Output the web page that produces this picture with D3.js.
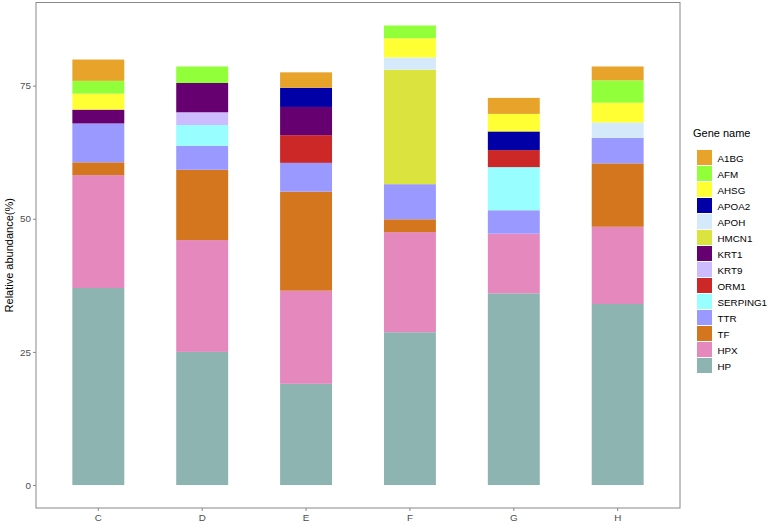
<!DOCTYPE html>
<html>
<head>
<meta charset="utf-8">
<script src="https://cdn.jsdelivr.net/npm/d3@7"></script>
<style>
  html, body { margin: 0; padding: 0; background: #fff; }
  svg { display: block; font-family: "Liberation Sans", Arial, sans-serif; }
</style>
</head>
<body>
<svg id="chart" width="768" height="528"></svg>
<script>
// ---- data ----
const categories = ["C", "D", "E", "F", "G", "H"];
const genes = ["A1BG", "AFM", "AHSG", "APOA2", "APOH", "HMCN1", "KRT1", "KRT9", "ORM1", "SERPING1", "TTR", "TF", "HPX", "HP"];
const geneColors = ["#E8A32B", "#91FF3A", "#FFFF33", "#0100A6", "#D4EAFB", "#DBE43E", "#660070", "#CCBBFF", "#CC2828", "#98FEFF", "#9999FF", "#D4761D", "#E488BE", "#8DB4B1"];
const yTicks = [0, 25, 50, 75];

// values per gene, in category order C, D, E, F, G, H
const A1BG     = [4.0, 0,   2.9, 0,    3.0, 2.6];
const AFM      = [2.4, 3.1, 0,   2.4,  0,   4.2];
const AHSG     = [3.0, 0,   0,   3.6,  3.3, 3.7];
const APOA2    = [0,   0,   3.6, 0,    3.5, 0];
const APOH     = [0,   0,   0,   2.3,  0,   2.9];
const HMCN1    = [0,   0,   0,   21.5, 0,   0];
const KRT1     = [2.6, 5.5, 5.3, 0,    0,   0];
const KRT9     = [0,   2.4, 0,   0,    0,   0];
const ORM1     = [0,   0,   5.2, 0,    3.2, 0];
const SERPING1 = [0,   3.9, 0,   0,    8.1, 0];
const TTR      = [7.3, 4.5, 5.4, 6.6,  4.4, 4.8];
const TF       = [2.4, 13.2, 18.6, 2.4, 0,  11.9];
const HPX      = [21.2, 21.0, 17.5, 18.8, 11.2, 14.5];
const HP       = [37.0, 25.0, 19.0, 28.7, 36.0, 34.0];

const seriesValues = { A1BG, AFM, AHSG, APOA2, APOH, HMCN1, KRT1, KRT9, ORM1, SERPING1, TTR, TF, HPX, HP };

// ---- layout ----
const svg = d3.select("#chart");
const panel = { left: 36, right: 680, top: 2.5, bottom: 508 };

const table = categories.map((c, i) => {
  const row = { cat: c };
  genes.forEach(g => row[g] = seriesValues[g][i]);
  return row;
});

// stack order: bottom HP ... top A1BG
const stackKeys = genes.slice().reverse();
const stacked = d3.stack().keys(stackKeys)(table);

const maxTotal = d3.max(table, r => d3.sum(genes, g => r[g]));

const x = d3.scaleBand()
  .domain(categories)
  .range([panel.left, panel.right])
  .paddingInner(0.5)
  .paddingOuter(0.35);

const y = d3.scaleLinear()
  .domain([-0.05 * maxTotal, maxTotal * 1.05])
  .range([panel.bottom, panel.top]);

const color = d3.scaleOrdinal().domain(genes).range(geneColors);

// bars
svg.append("g")
  .selectAll("g")
  .data(stacked)
  .join("g")
  .attr("fill", d => color(d.key))
  .selectAll("rect")
  .data(d => d.filter(s => s[1] - s[0] > 0))
  .join("rect")
  .attr("x", d => x(d.data.cat))
  .attr("width", x.bandwidth())
  .attr("y", d => y(d[1]))
  .attr("height", d => y(d[0]) - y(d[1]));

// panel border
svg.append("rect")
  .attr("x", panel.left)
  .attr("y", panel.top)
  .attr("width", panel.right - panel.left)
  .attr("height", panel.bottom - panel.top)
  .attr("fill", "none")
  .attr("stroke", "#888")
  .attr("stroke-width", 1);

// axes
const yAxis = d3.axisLeft(y).tickValues(yTicks).tickSize(3).tickPadding(2);
const yg = svg.append("g").attr("transform", `translate(${panel.left},0)`).call(yAxis);
yg.select(".domain").remove();
yg.selectAll("line").attr("stroke", "#888");
yg.selectAll("text").attr("fill", "#4D4D4D").style("font-size", "9.8px");

const xAxis = d3.axisBottom(x).tickSize(3).tickPadding(3);
const xg = svg.append("g").attr("transform", `translate(0,${panel.bottom})`).call(xAxis);
xg.select(".domain").remove();
xg.selectAll("line").attr("stroke", "#888");
xg.selectAll("text").attr("fill", "#4D4D4D").style("font-size", "9.8px");

// y title
svg.append("text")
  .attr("transform", `translate(9,${(panel.top + panel.bottom) / 2}) rotate(-90)`)
  .attr("text-anchor", "middle")
  .attr("dominant-baseline", "central")
  .style("font-size", "11px")
  .attr("fill", "#000")
  .text("Relative abundance(%)");

// legend
const lg = svg.append("g").attr("transform", "translate(693,0)");
lg.append("text")
  .attr("x", 0)
  .attr("y", 137)
  .style("font-size", "11px")
  .attr("fill", "#000")
  .text("Gene name");

const rowH = 16;
const items = lg.selectAll("g.item")
  .data(genes)
  .join("g")
  .attr("class", "item")
  .attr("transform", (d, i) => `translate(4,${149.5 + i * rowH})`);
items.append("rect")
  .attr("x", 0).attr("y", 0.5)
  .attr("width", 15).attr("height", rowH - 1)
  .attr("fill", d => color(d));
items.append("text")
  .attr("x", 20.5)
  .attr("y", rowH / 2 + 0.5)
  .attr("dominant-baseline", "central")
  .style("font-size", "9.8px")
  .attr("fill", "#000")
  .text(d => d);
</script>
</body>
</html>
